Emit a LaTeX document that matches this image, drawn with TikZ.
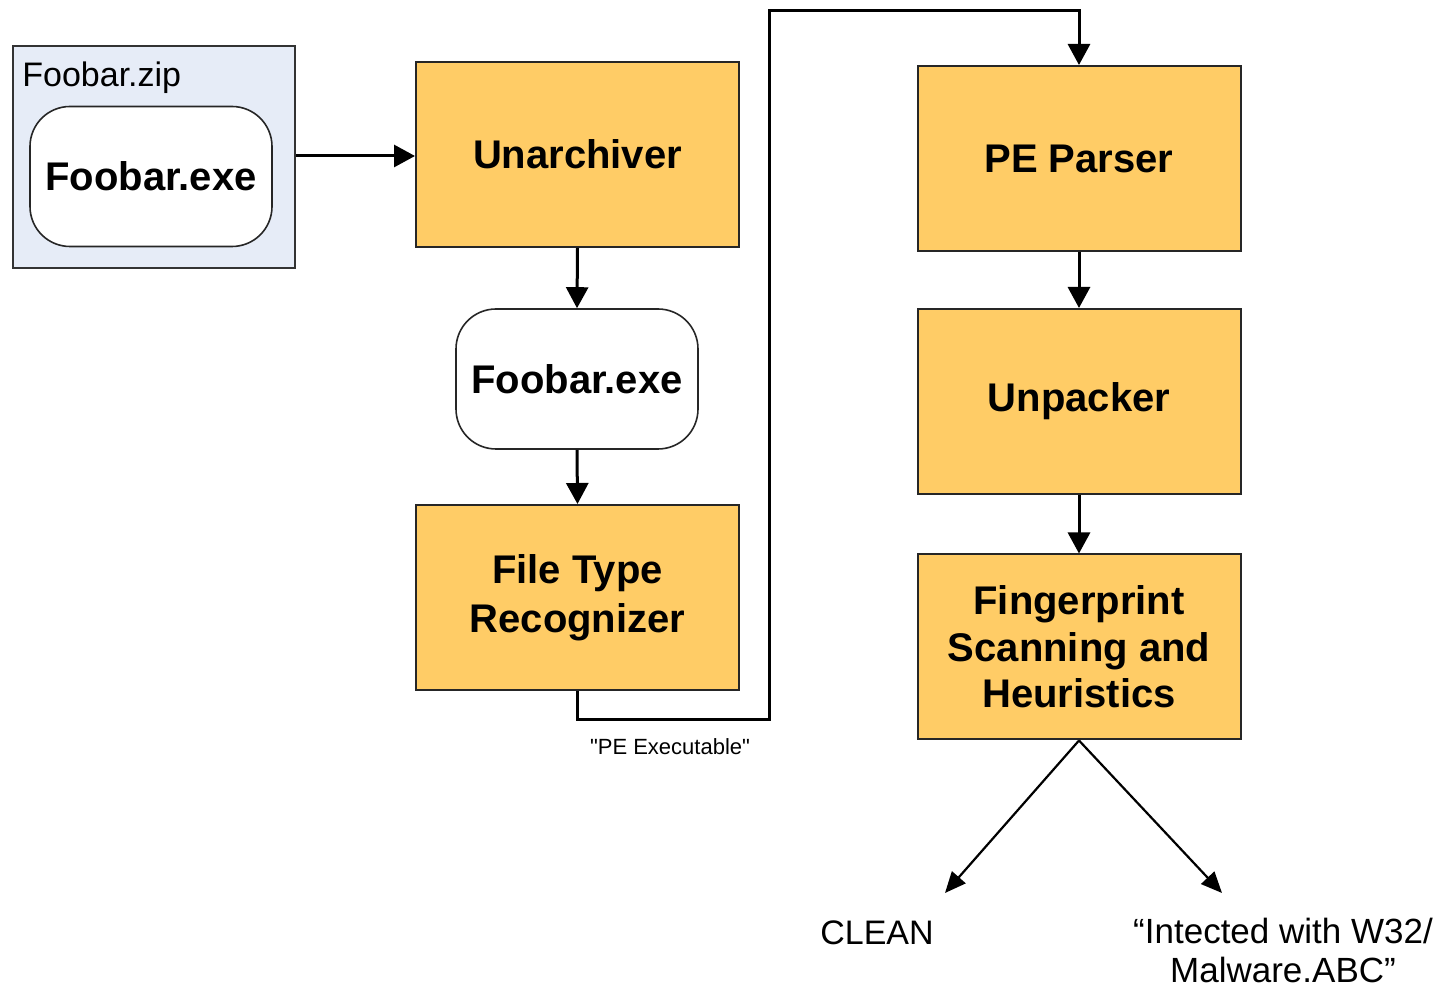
\documentclass[tikz,border=0pt]{standalone}
\usepackage{fontspec}
\setmainfont{Liberation Sans}
\newfontfamily\plainqfont{Liberation Sans}[Ligatures=TeXOff]
\usetikzlibrary{arrows.meta}
\definecolor{procfill}{HTML}{FFCC66}
\definecolor{zipfill}{HTML}{E6ECF7}
\begin{document}
\begin{tikzpicture}[x=0.5pt,y=-0.5pt,
  proc/.style={draw=black!85,line width=1pt,fill=procfill,minimum width=161.5pt,minimum height=92.5pt,
    font=\fontsize{20}{25}\selectfont\bfseries,align=center,inner sep=0pt},
  filebox/.style={draw=black!85,line width=0.8pt,fill=white,rounded corners=20pt,minimum width=121pt,minimum height=70pt,
    font=\fontsize{20}{24}\selectfont\bfseries,inner sep=0pt},
  conn/.style={line width=1.5pt,-{Triangle[length=10.5pt,width=11pt]}},
  diag/.style={line width=1.1pt,-{Triangle[length=10.5pt,width=9pt]}}]
\useasboundingbox (0,0) rectangle (1448,988);
% zip container
\node[draw=black!80,line width=1pt,fill=zipfill,minimum width=141pt,minimum height=111pt,inner sep=0pt] (zip) at (154,157) {};
\node[anchor=base west,font=\fontsize{17}{20}\selectfont,inner sep=0pt] (ziplbl) at (22,87) {Foobar.zip};
\node[filebox] (exe1) at (151,176.5) {Foobar.exe};
% left column
\node[proc] (unarc) at (577.5,154.5) {Unarchiver};
\node[filebox] (exe2) at (577,379) {Foobar.exe};
\node[proc,font=\fontsize{20}{24.5}\selectfont\bfseries] (ftr) at (577.5,597.5) {File Type\\Recognizer};
% right column
\node[proc] (pe) at (1079,158.5) {PE Parser};
\node[proc] (unp) at (1079,401.5) {Unpacker};
\node[proc,font=\fontsize{20}{23.3}\selectfont\bfseries] (fp) at (1079,647) {Fingerprint\\Scanning and\\Heuristics};
% connectors
\draw[conn] (zip.east |- 0,156) -- (unarc.west |- 0,156);
\draw[conn] (unarc.south) -- (exe2.north);
\draw[conn] (exe2.south) -- (ftr.north);
\coordinate (c1) at (769,720);
\coordinate (c2) at (769,11);
\draw[conn] (ftr.south) |- (c1) -- (c2) -| (pe.north);
\node[font=\plainqfont\fontsize{11}{13}\selectfont,inner sep=0pt] (pelbl) at (670,747) {"PE Executable"};
\draw[conn] (pe.south) -- (unp.north);
\draw[conn] (unp.south) -- (fp.north);
\coordinate (d1) at (945,893);
\coordinate (d2) at (1222,893);
\draw[diag] (fp.south) -- (d1);
\draw[diag] (fp.south) -- (d2);
\node[font=\fontsize{17}{19}\selectfont,inner sep=0pt] (clean) at (877,933) {CLEAN};
\node[font=\fontsize{17.5}{19.5}\selectfont,align=center,inner sep=0pt] (inf) at (1283,950) {“Intected with W32/\\Malware.ABC”};
\end{tikzpicture}
\end{document}
